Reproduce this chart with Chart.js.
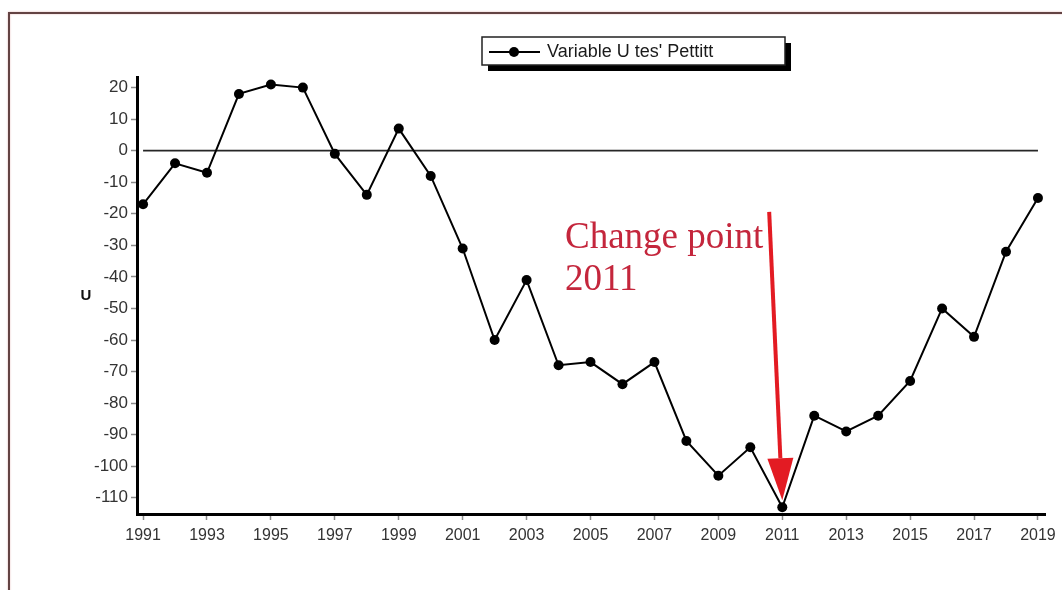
<!DOCTYPE html>
<html>
<head>
<meta charset="utf-8">
<title>Pettitt test U statistic</title>
<script src="https://cdn.jsdelivr.net/npm/chart.js@4.4.0/dist/chart.umd.min.js"></script>
<style>
  html, body { margin: 0; padding: 0; background: #fff; overflow: hidden; }
  #wrap { position: relative; width: 1062px; height: 590px; }
  canvas { position: absolute; left: 0; top: 0; }
  #frame {
    position: absolute; left: 8px; top: 12px; width: 1100px; height: 700px;
    border-top: 2px solid #634343; border-left: 2px solid #634343;
    box-shadow: 0 0 2px #e3b8b8, inset 0 0 2px #e3b8b8;
    pointer-events: none;
  }
</style>
</head>
<body>
<div id="wrap">
  <canvas id="chart" width="1062" height="590"></canvas>
  <div id="frame"></div>
</div>
<script>
// Pettitt test: U statistic per year
const years = [1991, 1992, 1993, 1994, 1995, 1996, 1997, 1998, 1999, 2000,
               2001, 2002, 2003, 2004, 2005, 2006, 2007, 2008, 2009, 2010,
               2011, 2012, 2013, 2014, 2015, 2016, 2017, 2018, 2019];
const uValues = [-17, -4, -7, 18, 21, 20, -1, -14, 7, -8,
                 -31, -60, -41, -68, -67, -74, -67, -92, -103, -94,
                 -113, -84, -89, -84, -73, -50, -59, -32, -15];
const yTickValues = [20, 10, 0, -10, -20, -30, -40, -50, -60, -70, -80, -90, -100, -110];
const xTickYears = [1991, 1993, 1995, 1997, 1999, 2001, 2003, 2005, 2007, 2009,
                    2011, 2013, 2015, 2017, 2019];
const seriesLabel = "Variable U tes' Pettitt";
const yAxisLabel = 'U';
const changeYear = 2011;
const changeLabelLines = ['Change point', '2011'];

// placement of the change-point note and arrow, in axis units
const notePlacement = { x: 2004.2, baselines: [-30.8, -44.1] };
const arrowStart = { x: 2010.59, y: -19.4 };

const SANS = '"Liberation Sans", Arial, sans-serif';

const changePointPlugin = {
  id: 'changePoint',
  afterDatasetsDraw(chart) {
    const { ctx, scales: { x, y } } = chart;
    ctx.save();
    // note text
    ctx.fillStyle = '#c4263c';
    ctx.font = '37px "Liberation Serif", "Times New Roman", serif';
    ctx.textAlign = 'left';
    ctx.textBaseline = 'alphabetic';
    changeLabelLines.forEach((line, i) => {
      ctx.fillText(line, x.getPixelForValue(notePlacement.x), y.getPixelForValue(notePlacement.baselines[i]));
    });
    // arrow down to the change-point marker
    const idx = years.indexOf(changeYear);
    const x0 = x.getPixelForValue(arrowStart.x);
    const y0 = y.getPixelForValue(arrowStart.y);
    const x1 = x.getPixelForValue(changeYear);
    const y1 = y.getPixelForValue(uValues[idx]) - 7;
    const dx = x1 - x0, dy = y1 - y0;
    const len = Math.hypot(dx, dy);
    const ux = dx / len, uy = dy / len;
    const headLen = 42, headHalf = 13;
    const bx = x1 - ux * headLen, by = y1 - uy * headLen;
    ctx.strokeStyle = '#e31b23';
    ctx.fillStyle = '#e31b23';
    ctx.lineWidth = 4;
    ctx.lineCap = 'butt';
    ctx.beginPath();
    ctx.moveTo(x0, y0);
    ctx.lineTo(bx, by);
    ctx.stroke();
    ctx.beginPath();
    ctx.moveTo(x1, y1);
    ctx.lineTo(bx - uy * headHalf, by + ux * headHalf);
    ctx.lineTo(bx + uy * headHalf, by - ux * headHalf);
    ctx.closePath();
    ctx.fill();
    ctx.restore();
  }
};

const legendBoxPlugin = {
  id: 'legendBox',
  afterDraw(chart) {
    const { ctx } = chart;
    const bx = 482, by = 37, bw = 303, bh = 28;
    ctx.save();
    // drop shadow
    ctx.fillStyle = '#000';
    ctx.fillRect(bx + 6, by + 6, bw, bh);
    // box
    ctx.fillStyle = '#fff';
    ctx.fillRect(bx, by, bw, bh);
    ctx.strokeStyle = '#222';
    ctx.lineWidth = 1.5;
    ctx.strokeRect(bx, by, bw, bh);
    // sample line and marker
    const my = by + 15;
    ctx.strokeStyle = '#000';
    ctx.lineWidth = 2;
    ctx.beginPath();
    ctx.moveTo(bx + 7, my);
    ctx.lineTo(bx + 58, my);
    ctx.stroke();
    ctx.fillStyle = '#000';
    ctx.beginPath();
    ctx.arc(bx + 32, my, 5, 0, Math.PI * 2);
    ctx.fill();
    // label
    ctx.fillStyle = '#1a1a1a';
    ctx.font = '18px ' + SANS;
    ctx.textBaseline = 'middle';
    ctx.textAlign = 'left';
    ctx.fillText(seriesLabel, bx + 65, my);
    ctx.restore();
  }
};

const yTitlePlugin = {
  id: 'yTitle',
  afterDraw(chart) {
    const { ctx, chartArea } = chart;
    ctx.save();
    ctx.fillStyle = '#111';
    ctx.font = 'bold 15px ' + SANS;
    ctx.textAlign = 'center';
    ctx.textBaseline = 'middle';
    ctx.fillText(yAxisLabel, 86, (chartArea.top + chartArea.bottom) / 2);
    ctx.restore();
  }
};

new Chart(document.getElementById('chart'), {
  type: 'line',
  data: {
    datasets: [
      {
        label: seriesLabel,
        data: years.map((yr, i) => ({ x: yr, y: uValues[i] })),
        borderColor: '#000',
        borderWidth: 2,
        pointRadius: 5,
        pointBackgroundColor: '#000',
        pointBorderColor: '#000',
        pointBorderWidth: 0,
        tension: 0,
        order: 1
      },
      {
        label: 'zero',
        data: [{ x: years[0], y: 0 }, { x: years[years.length - 1], y: 0 }],
        borderColor: '#262626',
        borderWidth: 1.8,
        pointRadius: 0,
        tension: 0,
        order: 2
      }
    ]
  },
  options: {
    responsive: false,
    animation: false,
    layout: { padding: { top: 77, right: 17, bottom: 0, left: 0 } },
    plugins: {
      legend: { display: false },
      tooltip: { enabled: false }
    },
    scales: {
      x: {
        type: 'linear',
        min: 1990.81,
        max: 2019.22,
        afterBuildTicks: s => { s.ticks = xTickYears.map(v => ({ value: v })); },
        afterFit: s => { s.height = 76; },
        ticks: {
          callback: v => String(v),
          font: { family: SANS, size: 16 },
          color: '#333',
          padding: 6,
          maxRotation: 0,
          autoSkip: false
        },
        grid: { drawOnChartArea: false, drawTicks: true, tickLength: 6, tickColor: '#8a8a8a', tickWidth: 1.5 },
        border: { display: true, color: '#000', width: 3 }
      },
      y: {
        type: 'linear',
        min: -115.15,
        max: 23.36,
        afterBuildTicks: s => { s.ticks = yTickValues.map(v => ({ value: v })); },
        afterFit: s => { s.width = 137; },
        ticks: {
          callback: v => String(v),
          font: { family: SANS, size: 17 },
          color: '#333',
          padding: 3,
          autoSkip: false
        },
        grid: { drawOnChartArea: false, drawTicks: true, tickLength: 6, tickColor: '#8a8a8a', tickWidth: 1.5 },
        border: { display: true, color: '#000', width: 3 }
      }
    }
  },
  plugins: [changePointPlugin, legendBoxPlugin, yTitlePlugin]
});
</script>
</body>
</html>
